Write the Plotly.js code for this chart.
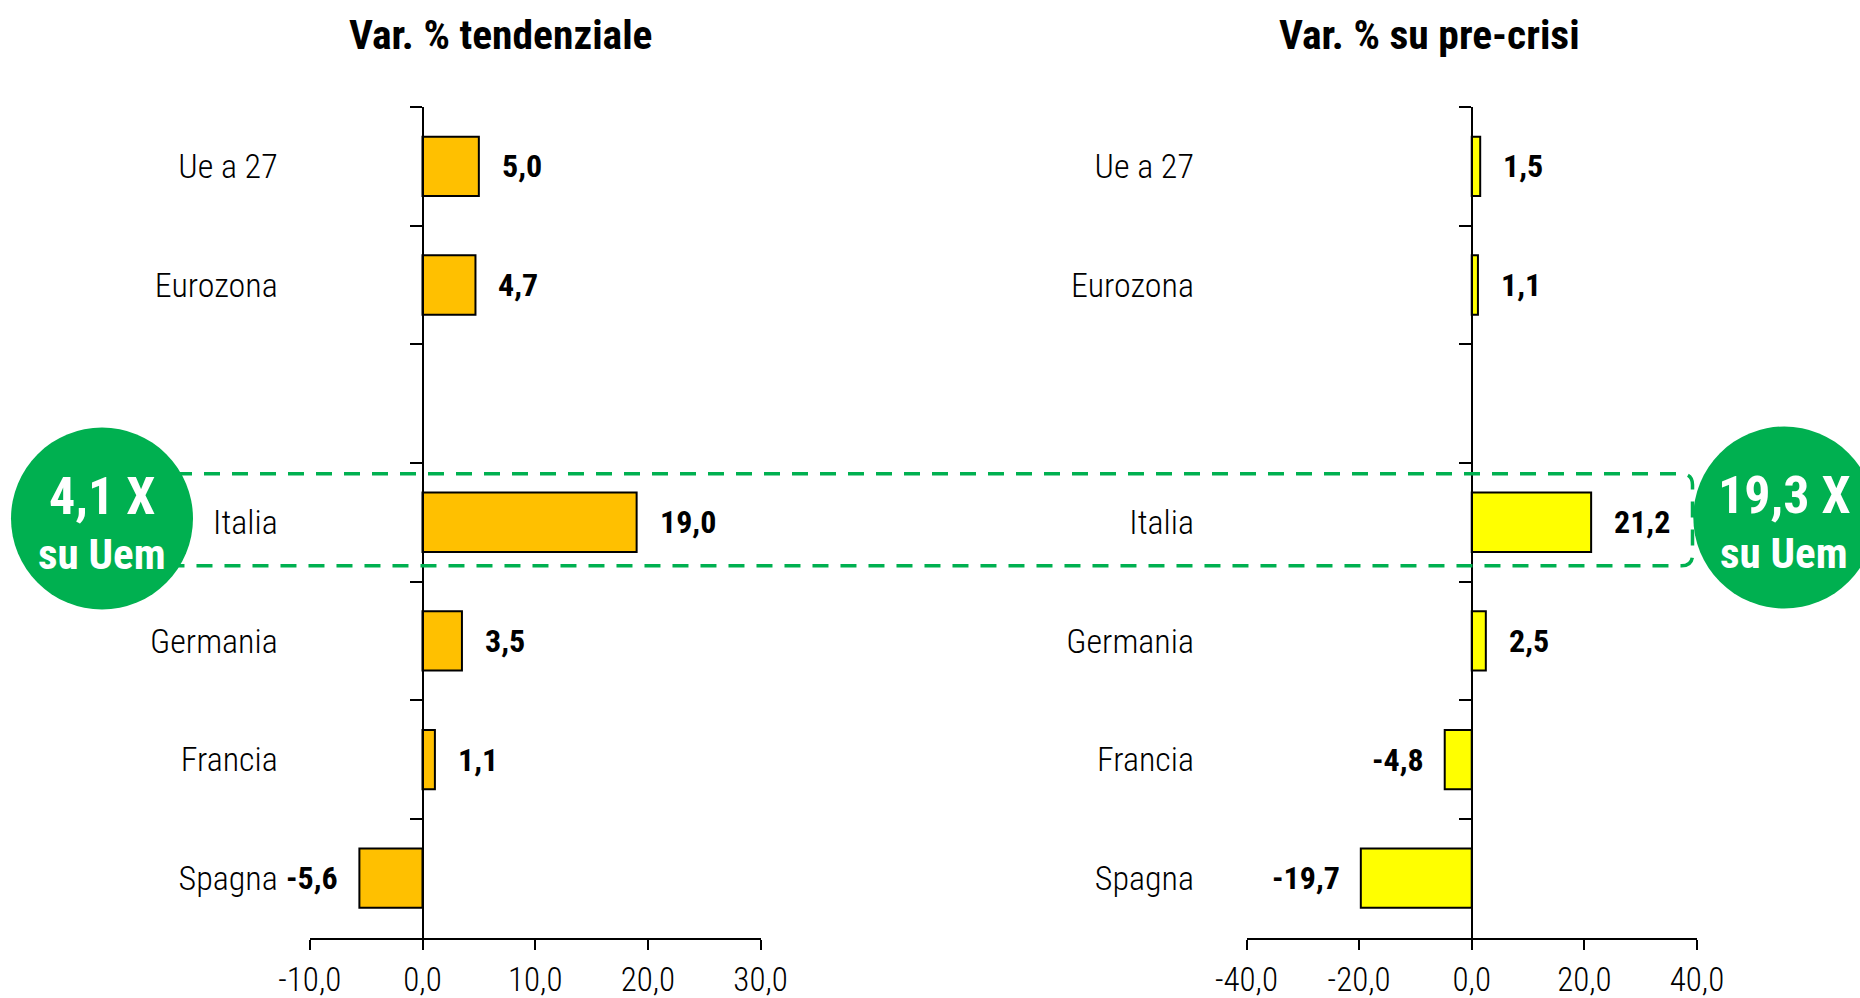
<!DOCTYPE html>
<html>
<head>
<meta charset="utf-8">
<script src="https://cdn.plot.ly/plotly-3.0.1.min.js"></script>
<style>html,body{margin:0;padding:0;background:#fff;}#chart{width:1860px;height:998px;}</style>
</head>
<body>
<div id="chart"></div>
<script>
// ---- data ----
const categories = ["Ue a 27", "Eurozona", " ", "Italia", "Germania", "Francia", "Spagna"];
const varTendenziale = [5.0, 4.7, null, 19.0, 3.5, 1.1, -5.6];
const varPreCrisi = [1.5, 1.1, null, 21.2, 2.5, -4.8, -19.7];
const titleLeft = "Var. % tendenziale";
const titleRight = "Var. % su pre-crisi";
const xTicksLeft = [-10, 0, 10, 20, 30];
const xTickLabelsLeft = ["-10,0", "0,0", "10,0", "20,0", "30,0"];
const xTicksRight = [-40, -20, 0, 20, 40];
const xTickLabelsRight = ["-40,0", "-20,0", "0,0", "20,0", "40,0"];
const badgeLeft = ["4,1 X", "su Uem"];
const badgeRight = ["19,3 X", "su Uem"];

// ---- layout helpers (pixels -> paper) ----
const W = 1860, H = 998;
const px = x => x / W;
const py = y => 1 - y / H;
const FONT = "'Liberation Sans Narrow', 'Arial Narrow', 'Roboto Condensed', 'DejaVu Sans Condensed', sans-serif";
const fmt = v => v.toFixed(1).replace('.', ',');

const yTop = 107, yBot = 937.5;
const L = {x0: 309.8, x1: 760.6, range: [-10, 30]};
const R = {x0: 1246.5, x1: 1697, range: [-40, 40]};
const zeroPos = a => px(a.x0 + (0 - a.range[0]) / (a.range[1] - a.range[0]) * (a.x1 - a.x0));

const barLine = {color: "#000", width: 2};
const traces = [
  {type: "bar", orientation: "h", x: varTendenziale, y: categories, xaxis: "x", yaxis: "y",
   marker: {color: "#FFC000", line: barLine}, width: 0.5, hoverinfo: "skip"},
  {type: "bar", orientation: "h", x: varPreCrisi, y: categories, xaxis: "x2", yaxis: "y2",
   marker: {color: "#FFFF00", line: barLine}, width: 0.5, hoverinfo: "skip"}
];

function yAxis(a, standoff) {
  return {
    domain: [py(yBot), py(yTop)], anchor: "free", position: zeroPos(a),
    type: "category", categoryorder: "array", categoryarray: categories,
    range: [categories.length - 0.5, -0.5],
    tickson: "boundaries", ticks: "outside", ticklen: 12, tickwidth: 2, tickcolor: "#000",
    showline: true, linewidth: 2, linecolor: "#000", showgrid: false, zeroline: false,
    tickfont: {family: FONT, size: 34, color: "#000", weight: 300}, ticklabelstandoff: standoff,
    fixedrange: true
  };
}
function xAxis(a, yname, tv, tt) {
  return {
    domain: [px(a.x0), px(a.x1)], anchor: yname, range: a.range,
    tickmode: "array", tickvals: tv, ticktext: tt,
    ticks: "outside", ticklen: 10, tickwidth: 2, tickcolor: "#000",
    showline: true, linewidth: 2, linecolor: "#000", showgrid: false, zeroline: false,
    tickfont: {family: FONT, size: 33, color: "#000", weight: 300}, ticklabelstandoff: 2,
    fixedrange: true
  };
}

const annotations = [];
function addValues(vals, xr, yr) {
  vals.forEach((v, i) => {
    if (v === null) return;
    annotations.push({
      x: v, y: categories[i], xref: xr, yref: yr, showarrow: false,
      text: fmt(v), xanchor: v >= 0 ? "left" : "right", xshift: v >= 0 ? 21 : -19,
      font: {family: FONT, size: 32, color: "#000", weight: "bold"}
    });
  });
}
addValues(varTendenziale, "x", "y");
addValues(varPreCrisi, "x2", "y2");

annotations.push({x: px(500.8), y: py(34), xref: "paper", yref: "paper", showarrow: false,
  text: titleLeft, xanchor: "center", yanchor: "middle",
  font: {family: FONT, size: 41.5, color: "#000", weight: "bold"}});
annotations.push({x: px(1429.7), y: py(34), xref: "paper", yref: "paper", showarrow: false,
  text: titleRight, xanchor: "center", yanchor: "middle",
  font: {family: FONT, size: 41.5, color: "#000", weight: "bold"}});

// badges
const cr = 91;
const badges = [{cx: 102, cy: 518.5, t: badgeLeft}, {cx: 1784.3, cy: 517.5, t: badgeRight}];
const shapes = [];
// dashed highlight band
const yt = 473.8, yb = 565.8, xs = 120, xe = 1692.5, rr = 11;
shapes.push({
  type: "path", xref: "paper", yref: "paper", layer: "above",
  path: `M ${px(xs)},${py(yt)} L ${px(xe - rr)},${py(yt)} Q ${px(xe)},${py(yt)} ${px(xe)},${py(yt + rr)} ` +
        `L ${px(xe)},${py(yb - rr)} Q ${px(xe)},${py(yb)} ${px(xe - rr)},${py(yb)} L ${px(xs)},${py(yb)}`,
  line: {color: "#00B050", width: 3.5, dash: "16px,12px"}, fillcolor: "rgba(0,0,0,0)"
});
badges.forEach(b => {
  shapes.push({type: "circle", xref: "paper", yref: "paper", layer: "above",
    x0: px(b.cx - cr), x1: px(b.cx + cr), y0: py(b.cy + cr), y1: py(b.cy - cr),
    fillcolor: "#00B050", line: {width: 0}});
  annotations.push({x: px(b.cx), y: py(b.cy - 22), xref: "paper", yref: "paper", showarrow: false,
    text: b.t[0], xanchor: "center", yanchor: "middle",
    font: {family: FONT, size: 52, color: "#fff", weight: "bold"}});
  annotations.push({x: px(b.cx), y: py(b.cy + 35), xref: "paper", yref: "paper", showarrow: false,
    text: b.t[1], xanchor: "center", yanchor: "middle",
    font: {family: FONT, size: 43, color: "#fff", weight: "bold"}});
});

const layout = {
  width: W, height: H, margin: {l: 0, r: 0, t: 0, b: 0},
  paper_bgcolor: "#fff", plot_bgcolor: "rgba(0,0,0,0)", showlegend: false,
  bargap: 0.5,
  xaxis: xAxis(L, "y", xTicksLeft, xTickLabelsLeft),
  yaxis: yAxis(L, 137),
  xaxis2: xAxis(R, "y2", xTicksRight, xTickLabelsRight),
  yaxis2: yAxis(R, 270),
  annotations: annotations, shapes: shapes
};

Plotly.newPlot("chart", traces, layout, {displayModeBar: false, staticPlot: true});
</script>
</body>
</html>
